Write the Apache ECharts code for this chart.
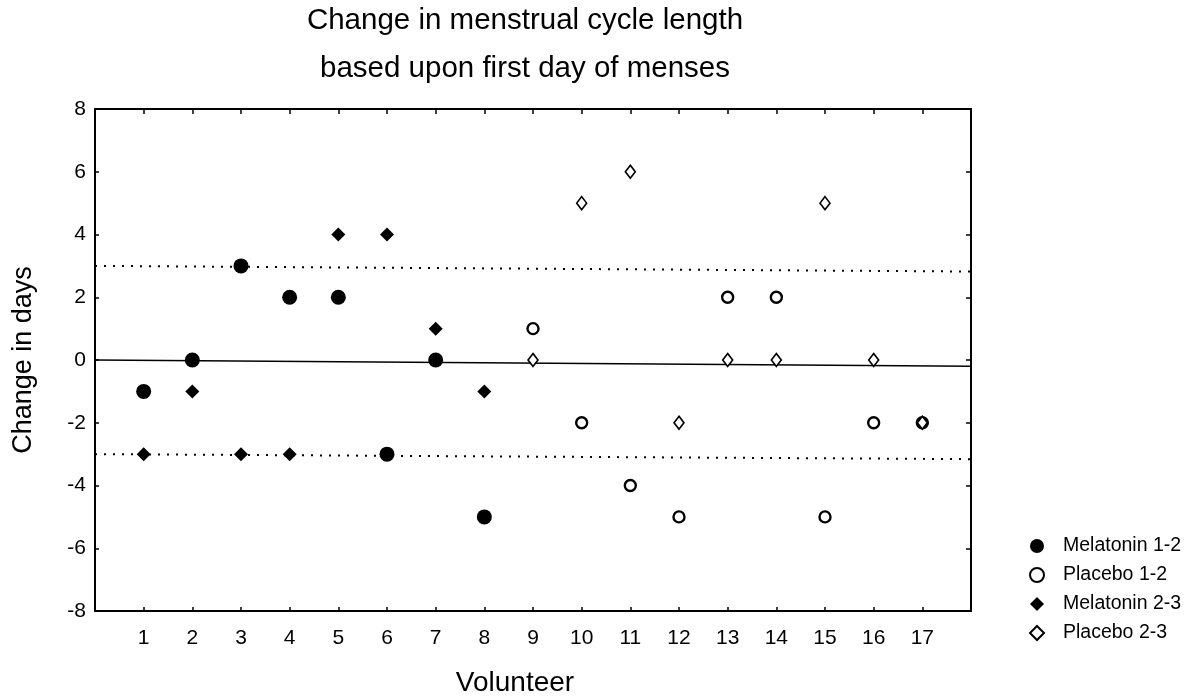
<!DOCTYPE html>
<html>
<head>
<meta charset="utf-8">
<script src="https://cdn.jsdelivr.net/npm/echarts@6/dist/echarts.min.js"></script>
<style>
  html, body { margin: 0; padding: 0; background: #fff; }
  #chart { width: 1193px; height: 696px; }
</style>
</head>
<body>
<div id="chart"></div>
<script>
// volunteers and change in cycle length (days)
const melVolunteers = [1, 2, 3, 4, 5, 6, 7, 8];
const placVolunteers = [9, 10, 11, 12, 13, 14, 15, 16, 17];
const melatonin12 = [-1, 0, 3, 2, 2, -3, 0, -5];
const placebo12 = [1, -2, -4, -5, 2, 2, -5, -2, -2];
const melatonin23 = [-3, -1, -3, -3, 4, 4, 1, -1];
const placebo23 = [0, 5, 6, -2, 0, 0, 5, 0, -2];

// reference lines (left end / right end, the scan is slightly tilted)
const refLeft = [3, 0, -3];
const refRight = [2.82, -0.2, -3.16];
const refDotted = [true, false, true];

const font = "'Liberation Sans', Arial, sans-serif";

function pairs(xs, ys) {
  return xs.map((x, i) => [x, ys[i]]);
}

const refLines = refLeft.map((v, i) => [
  {
    coord: [0, v],
    lineStyle: refDotted[i]
      ? { type: [2, 7], width: 2, color: "#000" }
      : { type: "solid", width: 1.6, color: "#000" },
  },
  { coord: [18, refRight[i]] },
]);

const axisLine = { show: true, onZero: false, lineStyle: { color: "#000", width: 2 } };

const chart = echarts.init(document.getElementById("chart"));
const option = {
  animation: false,
  backgroundColor: "#fff",
  title: {
    text: "Change in menstrual cycle length\nbased upon first day of menses",
    left: 525,
    top: -3,
    padding: 0,
    textAlign: "center",
    textStyle: {
      fontFamily: font,
      fontSize: 29.5,
      fontWeight: "normal",
      color: "#000",
      lineHeight: 48,
    },
  },
  legend: {
    orient: "vertical",
    left: 1024,
    top: 531,
    itemWidth: 14,
    itemHeight: 14,
    itemGap: 9,
    textStyle: {
      fontFamily: font,
      fontSize: 19.5,
      color: "#000",
      lineHeight: 20,
      padding: [0, 0, 0, 14],
    },
    data: ["Melatonin 1-2", "Placebo 1-2", "Melatonin 2-3", "Placebo 2-3"],
  },
  grid: {
    left: 95,
    right: 222,
    top: 109,
    bottom: 85,
    outerBoundsMode: "none",
  },
  xAxis: [
    {
      type: "value",
      min: 0,
      max: 18,
      interval: 1,
      name: "Volunteer",
      nameLocation: "middle",
      nameGap: 58,
      nameTextStyle: {
        fontFamily: font,
        fontSize: 28,
        color: "#000",
        padding: [0, 36, 0, 0],
      },
      axisLine: axisLine,
      axisTick: { inside: true, length: 4, lineStyle: { color: "#000", width: 1.5 } },
      axisLabel: {
        fontFamily: font,
        fontSize: 21,
        color: "#000",
        margin: 17,
        formatter: (v) => (v >= 1 && v <= 17 ? String(v) : ""),
      },
      splitLine: { show: false },
    },
    {
      type: "value",
      position: "top",
      min: 0,
      max: 18,
      interval: 1,
      axisLine: axisLine,
      axisTick: { inside: true, length: 5, lineStyle: { color: "#000", width: 1.5 } },
      axisLabel: { show: false },
      splitLine: { show: false },
    },
  ],
  yAxis: [
    {
      type: "value",
      min: -8,
      max: 8,
      interval: 2,
      name: "Change in days",
      nameLocation: "middle",
      nameGap: 58,
      nameTextStyle: {
        fontFamily: font,
        fontSize: 27,
        color: "#000",
      },
      axisLine: axisLine,
      axisTick: { show: true, inside: true, length: 4, lineStyle: { color: "#000", width: 1.5 } },
      axisLabel: {
        fontFamily: font,
        fontSize: 21,
        color: "#000",
        margin: 9,
      },
      splitLine: { show: false },
    },
    {
      type: "value",
      position: "right",
      min: -8,
      max: 8,
      interval: 2,
      axisLine: axisLine,
      axisTick: { show: true, inside: true, length: 5, lineStyle: { color: "#000", width: 1.5 } },
      axisLabel: { show: false },
      splitLine: { show: false },
    },
  ],
  series: [
    {
      name: "Melatonin 1-2",
      type: "scatter",
      symbol: "circle",
      symbolSize: 15,
      itemStyle: { color: "#000", opacity: 1 },
      data: pairs(melVolunteers, melatonin12),
      z: 3,
      markLine: {
        silent: true,
        symbol: "none",
        label: { show: false },
        z: 1,
        data: refLines,
      },
    },
    {
      name: "Placebo 1-2",
      type: "scatter",
      symbol: "circle",
      symbolSize: 11,
      itemStyle: { color: "#fff", borderColor: "#000", borderWidth: 2.4, opacity: 1 },
      data: pairs(placVolunteers, placebo12),
      z: 3,
    },
    {
      name: "Melatonin 2-3",
      type: "scatter",
      symbol: "diamond",
      symbolSize: 14,
      itemStyle: { color: "#000", opacity: 1 },
      data: pairs(melVolunteers, melatonin23),
      z: 3,
    },
    {
      name: "Placebo 2-3",
      type: "scatter",
      symbol: "diamond",
      symbolSize: [10, 13],
      itemStyle: { color: "#fff", borderColor: "#000", borderWidth: 1.6, opacity: 1 },
      data: pairs(placVolunteers, placebo23),
      z: 3,
    },
  ],
};
option && chart.setOption(option);
</script>
</body>
</html>
